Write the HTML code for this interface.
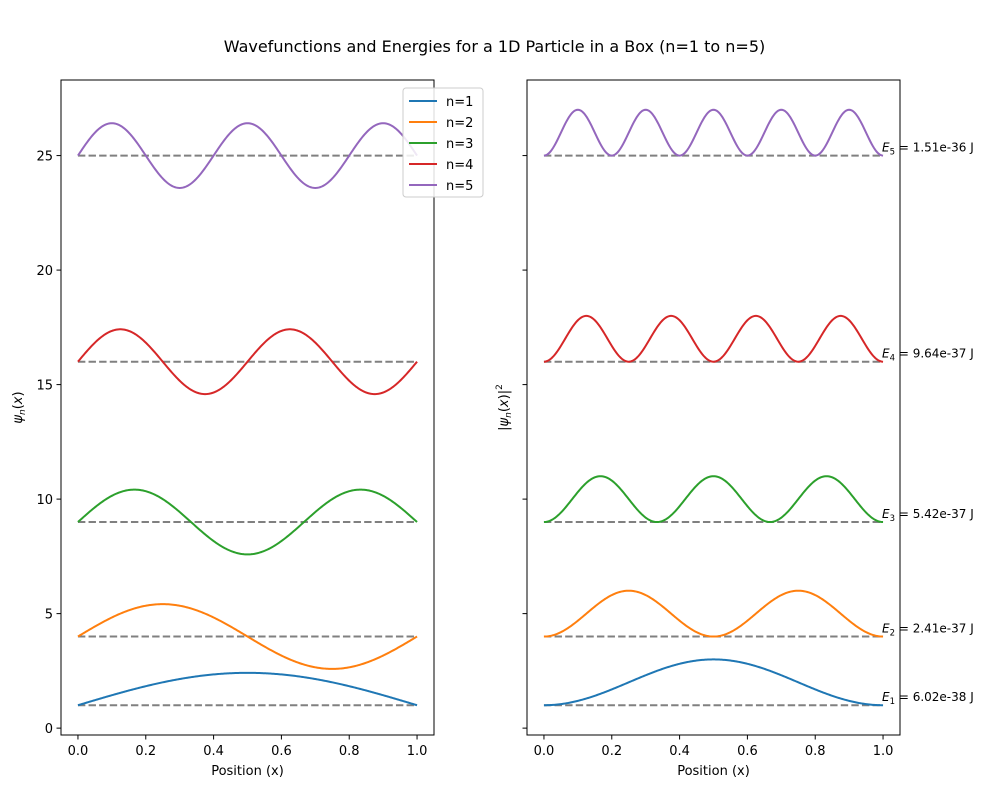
<!DOCTYPE html>
<html><head><meta charset="utf-8"><style>
body{margin:0;background:#fff;}
svg{font-family:"DejaVu Sans","Liberation Sans",sans-serif;}
</style></head><body>
<svg id="c" width="989" height="788" xmlns="http://www.w3.org/2000/svg">
<rect width="989" height="788" fill="#fff"/>
<text x="494.5" y="52" text-anchor="middle" font-size="16">Wavefunctions and Energies for a 1D Particle in a Box (n=1 to n=5)</text>
</svg>
<script>
const levels=[1,2,3,4,5];
const energyLabels=["6.02e-38","2.41e-37","5.42e-37","9.64e-37","1.51e-36"];
const colors=["#1f77b4","#ff7f0e","#2ca02c","#d62728","#9467bd"];
const xTicks=[0,0.2,0.4,0.6,0.8,1.0];
const yTicks=[0,5,10,15,20,25];
const svg=document.getElementById('c');
const NS="http://www.w3.org/2000/svg";
function el(t,a,p){const e=document.createElementNS(NS,t);for(const k in a)e.setAttribute(k,a[k]);(p||svg).appendChild(e);return e;}
const yMin=-0.3,yMax=28.3,axTop=80,axBot=735;
function Y(v){return axBot-(v-yMin)/(yMax-yMin)*(axBot-axTop);}
const panels=[{l:61,r:434,name:'left'},{l:527,r:900,name:'right'}];
panels.forEach((p,pi)=>{
  const X=v=>p.l+(v+0.05)/1.1*(p.r-p.l);
  const g=el('g',{});
  
  
  levels.forEach((n,i)=>{
    const E=n*n;
    const d=el('line',{x1:X(0),x2:X(1),y1:Y(E),y2:Y(E),stroke:'#808080','stroke-width':2,'stroke-dasharray':'7.4,3.2'},g);
    
    
    let pts=[];
    for(let k=0;k<=300;k++){const x=k/300;const s=Math.sqrt(2)*Math.sin(n*Math.PI*x);const v=pi==0?E+s:E+s*s;pts.push(X(x).toFixed(2)+','+Y(v).toFixed(2));}
    const pl=el('polyline',{points:pts.join(' '),fill:'none',stroke:colors[i],'stroke-width':2},g);
    
    
    if(pi==1){
      const t=el('text',{x:882,y:Y(E)-4,'font-size':12},g);
      
      
      t.innerHTML='<tspan font-style="italic">E</tspan><tspan font-size="8.5" dy="3">'+n+'</tspan><tspan dy="-3"> = '+energyLabels[i]+' J</tspan>';
    }
  });
  const fr=el('rect',{x:p.l,y:axTop,width:p.r-p.l,height:axBot-axTop,fill:'none',stroke:'#000','stroke-width':1},g);
  
  
  xTicks.forEach(v=>{
    el('line',{x1:X(v),x2:X(v),y1:axBot,y2:axBot+4.5,stroke:'#000'},g);
    const t=el('text',{x:X(v),y:axBot+20,'text-anchor':'middle','font-size':13},g);t.textContent=v.toFixed(1);
    
    
  });
  yTicks.forEach(v=>{
    el('line',{x1:p.l-4.5,x2:p.l,y1:Y(v),y2:Y(v),stroke:'#000'},g);
    if(pi==0){const t=el('text',{x:p.l-8,y:Y(v)+5,'text-anchor':'end','font-size':13},g);t.textContent=v;
    
    }
  });
  const xl=el('text',{x:(p.l+p.r)/2,y:axBot+40,'text-anchor':'middle','font-size':13},g);xl.textContent='Position (x)';
  
  
  const yl=el('text',{x:0,y:0,'text-anchor':'middle','font-size':13,transform:`translate(${pi==0?22:508},${(axTop+axBot)/2}) rotate(-90)`},g);
  
  
  yl.innerHTML=pi==0?'<tspan font-style="italic">ψ</tspan><tspan font-size="9" dy="3" font-style="italic">n</tspan><tspan dy="-3">(</tspan><tspan font-style="italic">x</tspan>)':'|<tspan font-style="italic">ψ</tspan><tspan font-size="9" dy="3" font-style="italic">n</tspan><tspan dy="-3">(</tspan><tspan font-style="italic">x</tspan>)|<tspan font-size="9" dy="-6">2</tspan>';
});
const lg=el('g',{});


el('rect',{x:403,y:88,width:80,height:109,rx:3,fill:'#fff','fill-opacity':0.85,stroke:'#ccc'},lg);
levels.forEach((n,i)=>{
  const y=101+i*21;
  el('line',{x1:409,x2:437,y1:y,y2:y,stroke:colors[i],'stroke-width':2},lg);
  const t=el('text',{x:446,y:y+5,'font-size':13},lg);t.textContent='n='+n;
  
  
});
</script>
</body></html>
